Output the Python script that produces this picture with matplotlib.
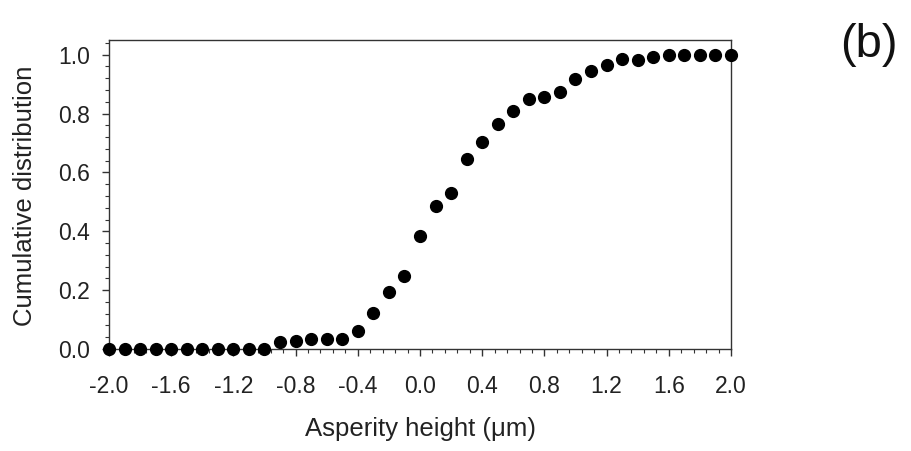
import numpy as np
import matplotlib
matplotlib.use("Agg")
import matplotlib.pyplot as plt
from matplotlib.ticker import MultipleLocator

plt.rcParams['font.family'] = ['Liberation Sans', 'DejaVu Sans']

# asperity height (um) and cumulative distribution
height = [-2.0, -1.9, -1.8, -1.7, -1.6, -1.5, -1.4, -1.3, -1.2, -1.1,
          -1.0, -0.9, -0.8, -0.7, -0.6, -0.5, -0.4, -0.3, -0.2, -0.1,
          0.0, 0.1, 0.2, 0.3, 0.4, 0.5, 0.6, 0.7, 0.8, 0.9,
          1.0, 1.1, 1.2, 1.3, 1.4, 1.5, 1.6, 1.7, 1.8, 1.9, 2.0]
cumdist = [0.0, 0.0, 0.0, 0.0, 0.0, 0.0, 0.0, 0.0, 0.0, 0.0,
           0.0, 0.023, 0.028, 0.034, 0.034, 0.034, 0.061, 0.121, 0.194, 0.247,
           0.383, 0.485, 0.531, 0.644, 0.704, 0.764, 0.810, 0.851, 0.857, 0.872,
           0.918, 0.945, 0.966, 0.984, 0.983, 0.991, 0.998, 1.0, 1.0, 1.0, 1.0]

xticks = [-2.0, -1.6, -1.2, -0.8, -0.4, 0.0, 0.4, 0.8, 1.2, 1.6, 2.0]
yticks = [0.0, 0.2, 0.4, 0.6, 0.8, 1.0]

W, H = 912, 451
fig = plt.figure(figsize=(W / 100, H / 100), dpi=100)
ax = fig.add_axes([109 / W, 1 - 349 / H, 622 / W, 309 / H])

ax.plot(height, cumdist, "o", color="black", markersize=8.5, clip_on=False, zorder=5)

ax.set_xlim(-2.0, 2.0)
ax.set_ylim(0.0, 1.05)
ax.set_xticks(xticks)
ax.set_xticklabels(["%.1f" % v for v in xticks])
ax.set_yticks(yticks)
ax.set_yticklabels(["%.1f" % v for v in yticks])
ax.xaxis.set_minor_locator(MultipleLocator(0.08))
ax.yaxis.set_minor_locator(MultipleLocator(0.04))

for s in ax.spines.values():
    s.set_color("#333333")
    s.set_linewidth(1.0)

ax.tick_params(which="both", direction="out", colors="#333333", labelcolor="#222222",
               labelsize=16.5, top=False, right=False)
ax.tick_params(which="major", length=5, width=1.0)
ax.tick_params(which="minor", length=3, width=0.8)
ax.tick_params(axis="x", pad=14)
ax.tick_params(axis="y", pad=8.5)

# axis titles placed by hand to sit where the original ones are
fig.text(421 / W, 1 - 429 / H, "Asperity height (\u03bcm)", fontsize=18.5,
         ha="center", va="center", color="#222222")
fig.text(25 / W, 1 - 196 / H, "Cumulative distribution", fontsize=18.5, rotation=90,
         ha="center", va="center", color="#222222")

fig.text(869 / W, 1 - 45 / H, "(b)", fontsize=34, ha="center", va="center", color="#111111")

fig.savefig("out.png", dpi=100)
